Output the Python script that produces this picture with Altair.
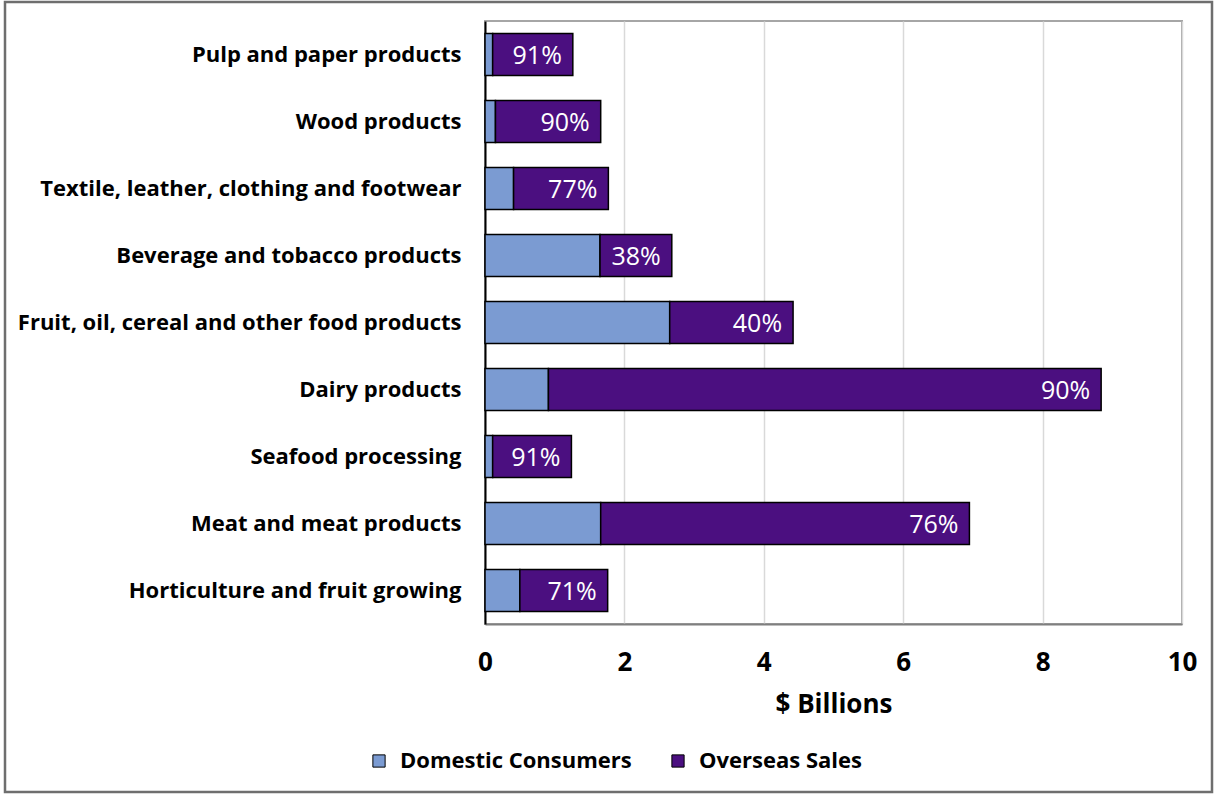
import altair as alt
import pandas as pd

categories = [
    "Pulp and paper products",
    "Wood products",
    "Textile, leather, clothing and footwear",
    "Beverage and tobacco products",
    "Fruit, oil, cereal and other food products",
    "Dairy products",
    "Seafood processing",
    "Meat and meat products",
    "Horticulture and fruit growing",
]
domestic = [0.11, 0.15, 0.41, 1.65, 2.65, 0.91, 0.11, 1.66, 0.50]
overseas = [1.15, 1.51, 1.36, 1.03, 1.77, 7.93, 1.13, 5.29, 1.26]
pct_labels = ["91%", "90%", "77%", "38%", "40%", "90%", "91%", "76%", "71%"]
series = ["Domestic Consumers", "Overseas Sales"]
colors = ["#7b9bd2", "#4b0f80"]
x_ticks = [0, 2, 4, 6, 8, 10]

FONT = "Open Sans"

rows = []
for c, d, o in zip(categories, domestic, overseas):
    rows.append({"cat": c, "series": series[0], "value": d, "ord": 0})
    rows.append({"cat": c, "series": series[1], "value": o, "ord": 1})
long_df = pd.DataFrame(rows)

lab_df = pd.DataFrame({
    "cat": categories,
    "total": [d + o for d, o in zip(domestic, overseas)],
    "label": pct_labels,
})

y_enc = alt.Y(
    "cat:N",
    sort=categories,
    scale=alt.Scale(paddingInner=0.373, paddingOuter=0.1865),
    axis=alt.Axis(
        title=None,
        ticks=False,
        labelFont=FONT,
        labelFontSize=22,
        labelFontWeight="bold",
        labelColor="#000000",
        labelPadding=24,
        labelLimit=600,
        domainColor="#000000",
        domainWidth=2,
        grid=False,
    ),
)

bars = alt.Chart(long_df).mark_bar(stroke="#000000", strokeWidth=1.5).encode(
    y=y_enc,
    x=alt.X(
        "value:Q",
        stack="zero",
        scale=alt.Scale(domain=[0, 10], nice=False),
        axis=alt.Axis(
            values=x_ticks,
            format="d",
            labelFlush=False,
            title="$ Billions",
            titleFont=FONT,
            titleFontSize=26,
            titleFontWeight="bold",
            titleColor="#000000",
            titlePadding=16,
            labelFont=FONT,
            labelFontSize=26,
            labelFontWeight="bold",
            labelColor="#000000",
            labelPadding=25,
            ticks=False,
            domainColor="#7f7f7f",
            domainWidth=2,
            grid=True,
            gridColor="#d9d9d9",
            gridWidth=1.5,
        ),
    ),
    color=alt.Color(
        "series:N",
        sort=series,
        scale=alt.Scale(domain=series, range=colors),
        legend=alt.Legend(
            title=None,
            orient="none",
            direction="horizontal",
            legendX=-117,
            legendY=729,
            symbolType="square",
            symbolSize=150,
            symbolStrokeColor="#000000",
            symbolStrokeWidth=1,
            labelFont=FONT,
            labelFontSize=22,
            labelFontWeight="bold",
            labelColor="#000000",
            labelOffset=10,
            labelLimit=400,
            columnPadding=35,
        ),
    ),
    order=alt.Order("ord:Q"),
)

labels = alt.Chart(lab_df).mark_text(
    align="right", baseline="middle", dx=-11, dy=1,
    color="#ffffff", font=FONT, fontSize=25,
).encode(
    y=alt.Y("cat:N", sort=categories),
    x=alt.X("total:Q"),
    text="label:N",
)

frame = alt.Chart(pd.DataFrame({"a": [0]})).mark_rect(
    fill=None, stroke="#6e6e6e", strokeWidth=2.5, clip=False
).encode(
    x=alt.value(-480), x2=alt.value(727), y=alt.value(-19), y2=alt.value(771)
)

chart = alt.layer(frame, bars, labels).properties(
    width=697,
    height=603,
    autosize=alt.AutoSizeParams(type="none"),
    padding={"left": 485, "top": 21, "right": 33, "bottom": 170},
    background="#ffffff",
).configure_view(
    stroke="#a6a6a6", strokeWidth=2
)

chart.save("out.html", embed_options={"renderer": "svg", "actions": False})
